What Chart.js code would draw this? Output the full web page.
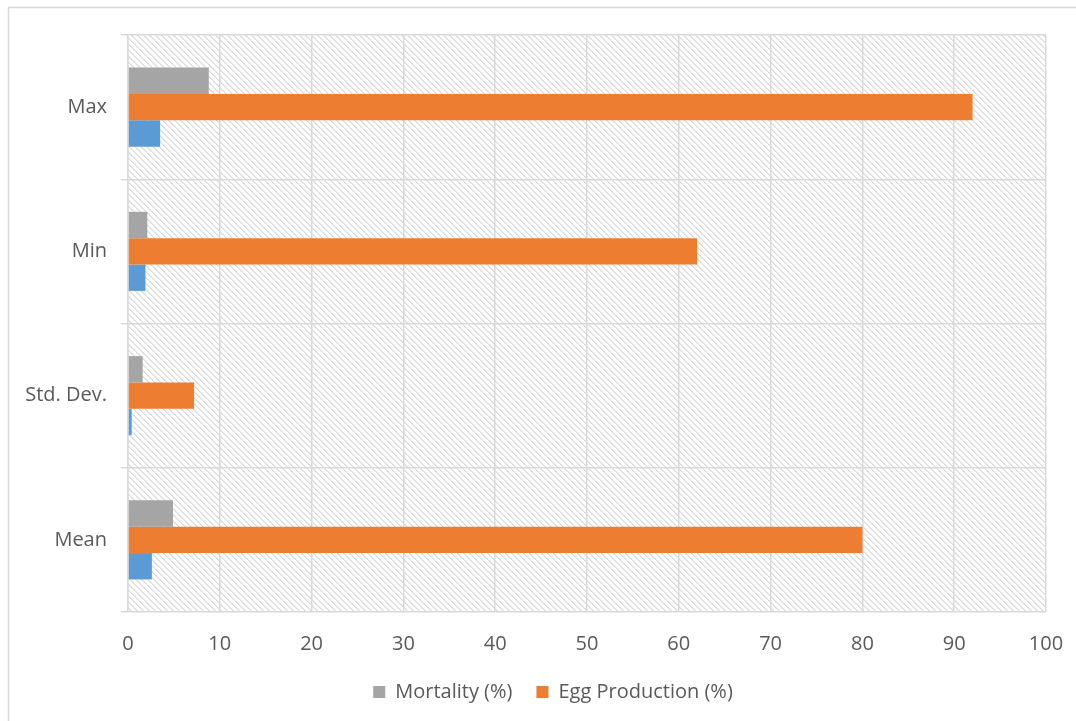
<!DOCTYPE html>
<html>
<head>
<meta charset="utf-8">
<script src="https://cdn.jsdelivr.net/npm/chart.js@4/dist/chart.umd.min.js"></script>
<style>
  html, body { margin: 0; padding: 0; background: #ffffff; }
  #wrap { width: 1076px; height: 721px; position: relative; }
</style>
</head>
<body>
<div id="wrap"><canvas id="chart" width="1076" height="721"></canvas></div>
<script>
// Summary statistics per category, listed top to bottom
const categories = ['Max', 'Min', 'Std. Dev.', 'Mean'];
const mortality = [8.8, 2.1, 1.6, 4.9];
const eggProduction = [92, 62, 7.2, 80];
const thirdSeries = [3.5, 1.9, 0.4, 2.6];
const xTicks = [0, 10, 20, 30, 40, 50, 60, 70, 80, 90, 100];

const TEXT = '#595959';
const GRID = '#d9d9d9';
const FONT = "'Open Sans', sans-serif";

// Light downward-diagonal hatch used behind the plot area
function makeHatch() {
  const n = 6;
  const c = document.createElement('canvas');
  c.width = n; c.height = n;
  const g = c.getContext('2d');
  g.fillStyle = '#ffffff';
  g.fillRect(0, 0, n, n);
  for (let y = 0; y < n; y++) {
    for (let x = 0; x < n; x++) {
      const d = ((x - y) % n + n) % n;
      if (d === 0) { g.fillStyle = '#d9d9d9'; g.fillRect(x, y, 1, 1); }
      else if (d === 1) { g.fillStyle = '#e8e8e8'; g.fillRect(x, y, 1, 1); }
    }
  }
  return c;
}

const hatchBackground = {
  id: 'hatchBackground',
  beforeDraw(chart) {
    const { ctx, chartArea: a } = chart;
    ctx.save();
    ctx.fillStyle = ctx.createPattern(makeHatch(), 'repeat');
    ctx.fillRect(a.left, a.top, a.right - a.left, a.bottom - a.top);
    ctx.restore();
  }
};

// Outer chart frame (left and top edges)
const frame = {
  id: 'frame',
  afterDraw(chart) {
    const ctx = chart.ctx;
    ctx.save();
    ctx.strokeStyle = GRID;
    ctx.lineWidth = 1.5;
    ctx.beginPath();
    ctx.moveTo(8.5, chart.height + 5);
    ctx.lineTo(8.5, 7.5);
    ctx.lineTo(chart.width + 5, 7.5);
    ctx.stroke();
    ctx.restore();
  }
};

// Nudge the legend row to the right so it sits under the bars
const legendOffset = {
  id: 'legendOffset',
  afterLayout(chart) {
    if (chart.legend) chart.legend.left += 60;
  }
};

new Chart(document.getElementById('chart'), {
  type: 'bar',
  data: {
    labels: categories,
    datasets: [
      { label: 'Mortality (%)', data: mortality, backgroundColor: '#A5A5A5' },
      { label: 'Egg Production (%)', data: eggProduction, backgroundColor: '#ED7D31' },
      { label: 'Series 3', data: thirdSeries, backgroundColor: '#5B9BD5' }
    ]
  },
  plugins: [hatchBackground, frame, legendOffset],
  options: {
    indexAxis: 'y',
    responsive: false,
    animation: false,
    layout: { padding: { top: 35, right: 30, left: 0, bottom: 9 } },
    datasets: {
      bar: { categoryPercentage: 0.548, barPercentage: 1.0, borderWidth: 0 }
    },
    scales: {
      x: {
        min: 0, max: 100,
        afterBuildTicks(scale) { scale.ticks = xTicks.map(v => ({ value: v })); },
        afterFit(scale) { scale.height = 46; scale.paddingLeft = 0; scale.paddingRight = 0; },
        grid: { color: GRID, lineWidth: 1.5, drawTicks: false },
        border: { display: false },
        ticks: { color: TEXT, font: { family: FONT, size: 20 }, padding: 20 }
      },
      y: {
        afterFit(scale) { scale.width = 128; },
        grid: { color: GRID, lineWidth: 1.5, drawTicks: true, tickLength: 7, offset: true },
        border: { display: true, color: GRID, width: 1.5 },
        ticks: { color: TEXT, font: { family: FONT, size: 20 }, padding: 14 }
      }
    },
    plugins: {
      tooltip: { enabled: false },
      legend: {
        position: 'bottom',
        labels: {
          color: TEXT,
          font: { family: FONT, size: 20 },
          boxWidth: 12, boxHeight: 12,
          padding: 24,
          filter: item => item.datasetIndex !== 2
        }
      }
    }
  }
});
</script>
</body>
</html>
